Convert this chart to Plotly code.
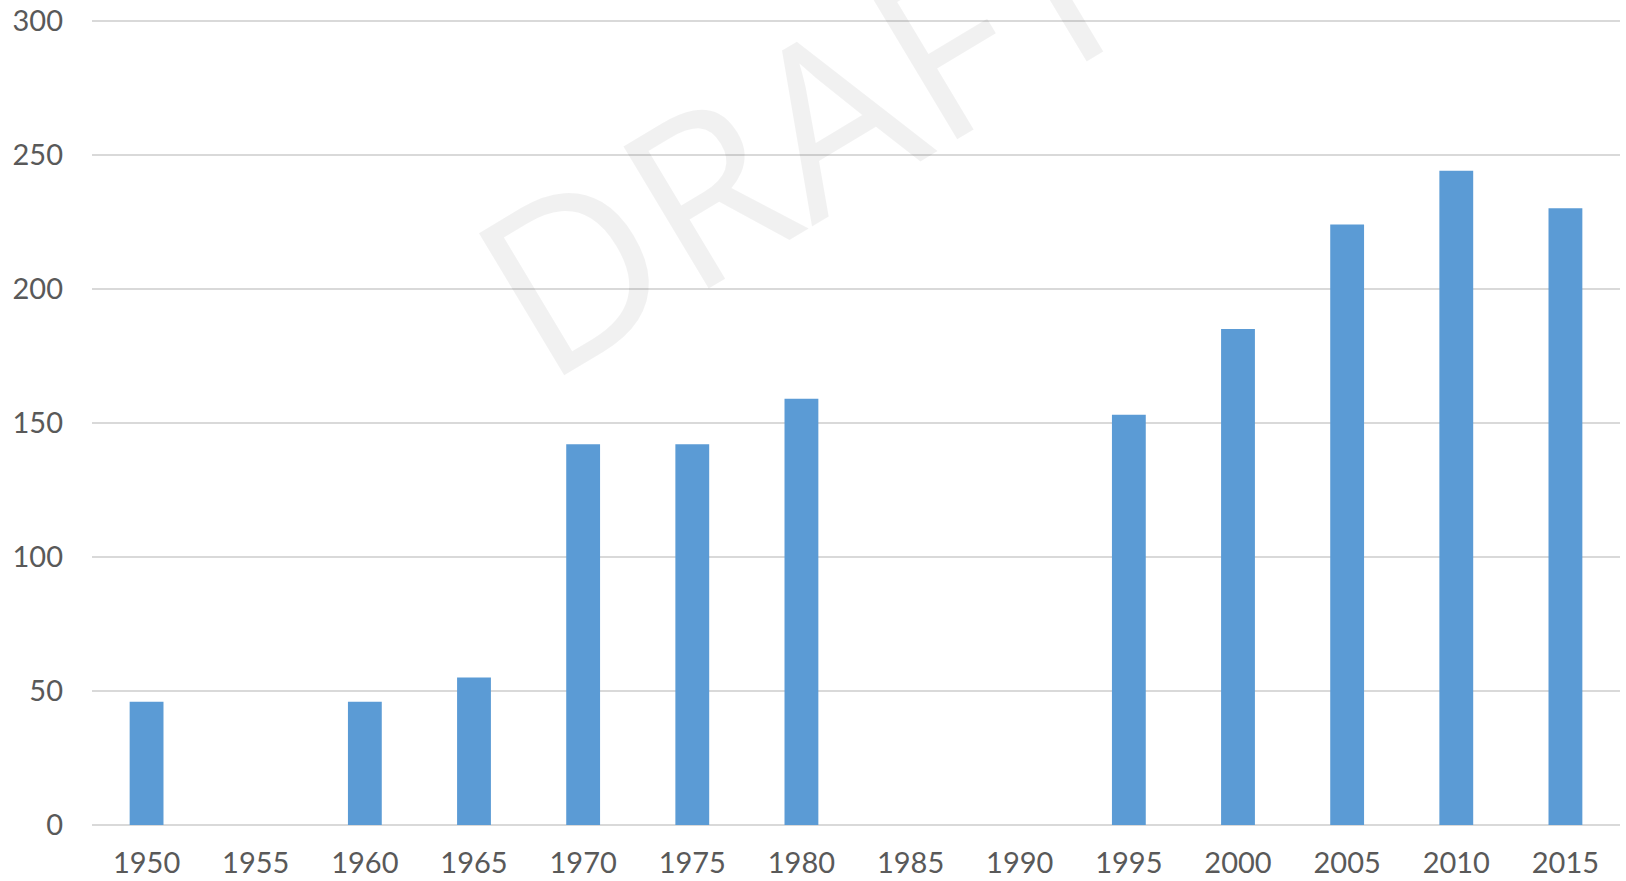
import plotly.graph_objects as go

years = ["1950", "1955", "1960", "1965", "1970", "1975", "1980",
         "1985", "1990", "1995", "2000", "2005", "2010", "2015"]
values = [46, None, 46, 55, 142, 142, 159, None, None, 153, 185, 224, 244, 230]
y_ticks = [0, 50, 100, 150, 200, 250, 300]
watermark_text = "DRAFT"

BAR = "#5b9bd5"
GRID = "#d9d9d9"
TXT = "#595959"
FONT = "Lato"

fig = go.Figure()
fig.add_trace(go.Bar(x=years, y=values, marker=dict(color=BAR, line=dict(width=0))))

fig.add_annotation(
    text=watermark_text, xref="paper", yref="paper", x=0.464, y=0.865,
    xanchor="center", yanchor="middle",
    showarrow=False, textangle=-31,
    font=dict(family="Open Sans", size=232, color="rgba(0,0,0,0.055)"),
)

fig.update_layout(
    width=1626, height=881,
    margin=dict(l=92, r=6, t=19, b=56, autoexpand=False),
    paper_bgcolor="white", plot_bgcolor="white",
    bargap=0.69, showlegend=False,
    font=dict(family=FONT, size=29, color=TXT),
)
fig.update_xaxes(
    type="category", showgrid=False, showline=False, zeroline=False,
    ticks="", ticklabelstandoff=18, automargin=False,
    tickfont=dict(family=FONT, size=29, color=TXT),
)
fig.update_yaxes(
    range=[0, 300.6], tickvals=y_ticks, showgrid=True, gridcolor=GRID, gridwidth=1.5,
    zeroline=True, zerolinecolor=GRID, zerolinewidth=1.5, showline=False,
    ticks="", ticklabelstandoff=28, automargin=False,
    tickfont=dict(family=FONT, size=29, color=TXT),
)

fig.write_html(
    "out.html",
    config={"displayModeBar": False},
    post_script="document.body.style.margin='0';document.body.style.overflow='hidden';",
)
